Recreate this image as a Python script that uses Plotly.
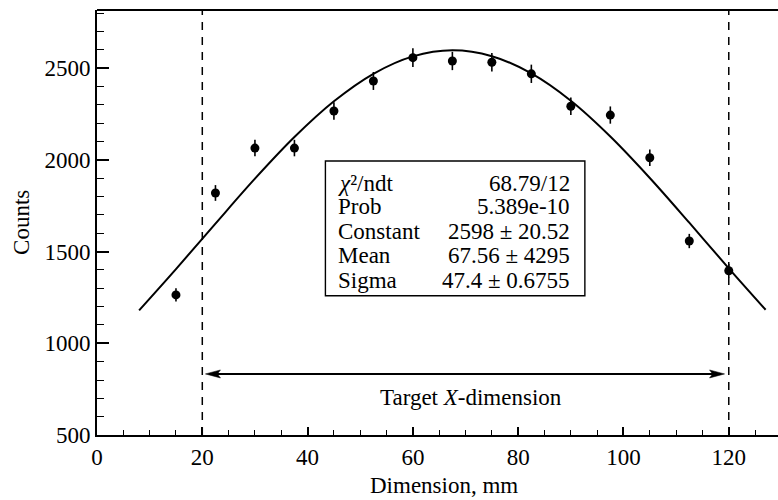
import plotly.graph_objects as go

# ---- data ----
x_points = [15, 22.5, 30, 37.5, 45, 52.5, 60, 67.5, 75, 82.5, 90, 97.5, 105, 112.5, 120]
y_counts = [1264, 1820, 2065, 2065, 2267, 2431, 2558, 2540, 2533, 2470, 2293, 2245, 2012, 1558, 1396]
y_errors = [36, 43, 45, 45, 48, 49, 51, 50, 50, 50, 48, 47, 45, 39, 37]

fit_x = [8, 15, 22.5, 30, 37.5, 45, 52.5, 60, 67.5, 75, 82.5, 90, 97.5, 105, 112.5, 120, 127]
fit_y = [1180, 1405, 1653, 1898, 2125, 2320, 2470, 2565, 2598, 2566, 2472, 2323, 2128, 1902, 1658, 1409, 1183]

target_x = [20, 120]
arrow_x = [20.6, 119.2]
arrow_y = 833

x_ticks = [0, 20, 40, 60, 80, 100, 120]
y_ticks = [500, 1000, 1500, 2000, 2500]

stat_names = ["<i>χ</i>²/ndt", "Prob", "Constant", "Mean", "Sigma"]
stat_values = ["68.79/12", "5.389e-10", "2598 ± 20.52", "67.56 ± 4295", "47.4 ± 0.6755"]

FONT = "Liberation Serif, Times New Roman, serif"
FS = 23
BLACK = "#000000"

fig = go.Figure()

fig.add_trace(go.Scatter(
    x=fit_x, y=fit_y, mode="lines",
    line=dict(color=BLACK, width=2, shape="spline", smoothing=1.0),
    hoverinfo="skip"))

fig.add_trace(go.Scatter(
    x=x_points, y=y_counts, mode="markers",
    marker=dict(color=BLACK, size=9),
    error_y=dict(type="data", array=y_errors, visible=True,
                 color=BLACK, thickness=1.6, width=0)))

# arrow shaft
fig.add_trace(go.Scatter(
    x=[arrow_x[0] + 2, arrow_x[1] - 2], y=[arrow_y, arrow_y], mode="lines",
    line=dict(color=BLACK, width=2), hoverinfo="skip"))

shapes = []
for tx in target_x:
    shapes.append(dict(type="line", xref="x", yref="paper", x0=tx, x1=tx, y0=0, y1=1,
                       line=dict(color=BLACK, width=1.5, dash="8px,7px")))
shapes.append(dict(type="line", xref="paper", yref="paper", x0=0, x1=1, y0=1, y1=1,
                   line=dict(color=BLACK, width=2)))
shapes.append(dict(type="path", xref="x", yref="y", xsizemode="pixel", ysizemode="pixel",
                   xanchor=arrow_x[0], yanchor=arrow_y,
                   path="M0,0 L15,4 L12,0 L15,-4 Z",
                   fillcolor=BLACK, line=dict(color=BLACK, width=0.5)))
shapes.append(dict(type="path", xref="x", yref="y", xsizemode="pixel", ysizemode="pixel",
                   xanchor=arrow_x[1], yanchor=arrow_y,
                   path="M0,0 L-15,4 L-12,0 L-15,-4 Z",
                   fillcolor=BLACK, line=dict(color=BLACK, width=0.5)))
shapes.append(dict(type="rect", xref="paper", yref="paper",
                   x0=0.3354, x1=0.7164, y0=0.3278, y1=0.6447,
                   fillcolor="white", line=dict(color=BLACK, width=1.4), layer="above"))

annotations = []
row_y = [0.5929, 0.5365, 0.4788, 0.4212, 0.3647]
for name, val, ry in zip(stat_names, stat_values, row_y):
    annotations.append(dict(xref="paper", yref="paper", x=0.3516, y=ry, text=name,
                            showarrow=False, xanchor="left", yanchor="middle",
                            font=dict(family=FONT, size=FS, color=BLACK)))
    annotations.append(dict(xref="paper", yref="paper", x=0.6969, y=ry, text=val,
                            showarrow=False, xanchor="right", yanchor="middle",
                            font=dict(family=FONT, size=FS, color=BLACK)))

annotations.append(dict(xref="paper", yref="paper", x=0.5498, y=0.0894,
                        text="Target <i>X</i>-dimension", showarrow=False,
                        xanchor="center", yanchor="middle",
                        font=dict(family=FONT, size=FS, color=BLACK)))
annotations.append(dict(xref="paper", yref="paper", x=0.509, y=-0.118,
                        text="Dimension, mm", showarrow=False,
                        xanchor="center", yanchor="middle",
                        font=dict(family=FONT, size=FS, color=BLACK)))
annotations.append(dict(xref="paper", yref="paper", x=-0.111, y=0.5,
                        text="Counts", showarrow=False, textangle=-90,
                        xanchor="center", yanchor="middle",
                        font=dict(family=FONT, size=FS, color=BLACK)))

fig.update_layout(
    width=778, height=500,
    margin=dict(l=97, r=0, t=10, b=65, pad=0, autoexpand=False),
    paper_bgcolor="white", plot_bgcolor="white",
    showlegend=False,
    shapes=shapes, annotations=annotations,
    font=dict(family=FONT, size=FS, color=BLACK),
    xaxis=dict(range=[0, 129.35], tickvals=x_ticks, ticks="inside", ticklen=8,
               tickwidth=1.6, tickcolor=BLACK, showline=True, linewidth=2,
               linecolor=BLACK, showgrid=False, zeroline=False, mirror=False,
               automargin=False,
               tickfont=dict(family=FONT, size=FS, color=BLACK),
               minor=dict(dtick=5, tick0=0, ticks="inside", ticklen=5,
                          tickwidth=1.4, tickcolor=BLACK, showgrid=False)),
    yaxis=dict(range=[500, 2818], tickvals=y_ticks, ticks="inside", ticklen=12,
               tickwidth=1.6, tickcolor=BLACK, showline=True, linewidth=2,
               linecolor=BLACK, showgrid=False, zeroline=False, mirror=False,
               automargin=False,
               tickfont=dict(family=FONT, size=FS, color=BLACK),
               minor=dict(dtick=100, tick0=500, ticks="inside", ticklen=7,
                          tickwidth=1.4, tickcolor=BLACK, showgrid=False)),
)

fig.write_html("out.html",
               config={"displayModeBar": False},
               post_script="document.body.style.margin='0';document.body.style.overflow='hidden';")
